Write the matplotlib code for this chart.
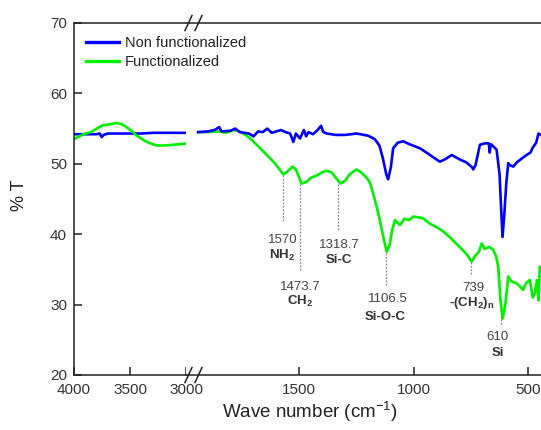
import matplotlib
matplotlib.use("Agg")
import matplotlib.pyplot as plt
from matplotlib.lines import Line2D

plt.rcParams['font.family'] = ['Liberation Sans', 'DejaVu Sans']
plt.rcParams['mathtext.fontset'] = 'custom'
plt.rcParams['mathtext.rm'] = 'Liberation Sans'
plt.rcParams['mathtext.it'] = 'Liberation Sans:italic'
plt.rcParams['mathtext.bf'] = 'Liberation Sans:bold'

# ---------------- data ----------------
blue_left_w = [4000, 3900, 3800, 3770, 3753, 3735, 3700, 3600, 3500, 3400, 3300, 3200, 3100, 2979]
blue_left_t = [54.2, 54.2, 54.2, 54.3, 53.8, 54.1, 54.3, 54.3, 54.3, 54.3, 54.4, 54.4, 54.4, 54.4]

green_left_w = [4000, 3917, 3850, 3798, 3738, 3680, 3619, 3570, 3530, 3480, 3440, 3351, 3262, 3200, 3113, 2979]
green_left_t = [53.5, 54.2, 54.5, 55.0, 55.5, 55.6, 55.8, 55.6, 55.2, 54.6, 54.0, 53.1, 52.6, 52.6, 52.7, 52.9]

blue_right_w = [1942, 1900, 1870, 1850, 1840, 1800, 1780, 1760, 1720, 1700, 1680, 1660, 1640,
                1620, 1600, 1580, 1560, 1540, 1526, 1515, 1497, 1480, 1470, 1460, 1440, 1420,
                1405, 1395, 1380, 1340, 1300, 1250, 1200, 1170, 1150, 1135, 1120, 1112, 1100,
                1090, 1070, 1046, 1020, 973, 940, 900, 886, 860, 834, 820, 798, 770, 745, 740,
                730, 711, 690, 672, 668, 664, 650, 638, 625, 618, 612, 605, 595, 587, 580, 565,
                550, 530, 507, 490, 480, 465, 455, 444]
blue_right_t = [54.5, 54.6, 54.8, 55.2, 54.6, 54.7, 55.0, 54.5, 54.3, 53.9, 54.6, 54.5, 55.0,
                54.4, 54.6, 54.8, 54.5, 54.3, 53.1, 54.3, 53.6, 54.8, 53.9, 54.5, 54.2, 54.8,
                55.4, 54.5, 54.3, 54.1, 54.1, 54.3, 54.0, 53.5, 52.6, 50.8, 48.5, 47.8, 49.5,
                52.2, 53.0, 53.2, 52.8, 52.2, 51.5, 50.6, 50.3, 50.7, 51.25, 51.0, 50.6, 50.2,
                49.5, 49.2, 49.8, 52.7, 52.9, 52.9, 51.6, 52.8, 52.4, 52.0, 48.5, 43.5, 39.6,
                42.5, 47.5, 50.1, 49.8, 49.6, 50.2, 50.7, 51.25, 51.6, 52.3, 53.0, 54.3, 54.1]

green_right_w = [1942, 1900, 1850, 1820, 1788, 1760, 1730, 1708, 1680, 1642, 1610, 1584, 1570,
                 1555, 1530, 1515, 1500, 1490, 1470, 1450, 1420, 1400, 1380, 1360, 1340, 1320,
                 1300, 1280, 1250, 1230, 1200, 1190, 1175, 1162, 1145, 1133, 1118, 1105, 1095,
                 1082, 1070, 1060, 1040, 1020, 1002, 980, 958, 930, 900, 871, 840, 800, 770,
                 747, 730, 715, 703, 690, 670, 653, 640, 631, 622, 612, 600, 587, 573, 550,
                 522, 510, 493, 480, 471, 462, 455, 449, 444]
green_right_t = [54.5, 54.5, 54.6, 54.4, 54.8, 54.6, 54.0, 53.4, 52.5, 51.25, 50.2, 49.1, 48.5,
                 48.8, 49.6, 49.2, 48.0, 47.2, 47.4, 48.0, 48.4, 48.8, 49.0, 48.8, 48.0, 47.2,
                 47.6, 48.5, 49.2, 48.8, 47.8, 47.2, 45.5, 43.9, 41.5, 39.6, 37.5, 38.5, 40.5,
                 42.0, 41.6, 41.3, 42.2, 42.0, 42.5, 42.4, 42.25, 41.5, 41.0, 40.4, 39.5, 38.2,
                 37.2, 36.1, 37.0, 37.5, 38.7, 37.9, 38.2, 37.8, 36.8, 35.4, 31.0, 28.0, 30.0,
                 34.0, 33.3, 33.0, 32.1, 33.0, 33.5, 31.0, 31.6, 33.5, 30.6, 35.4, 35.0]

# peak annotations
ann_num = ['1570', '1473.7', '1318.7', '1106.5', '739', '610']
ann_grp = [r'NH$_\mathbf{2}$', r'CH$_\mathbf{2}$', 'Si-C', 'Si-O-C',
           r'-(CH$_\mathbf{2}$)$_\mathbf{n}$', 'Si']
ann_line_w = [1570, 1497, 1330, 1122, 750, 617]
ann_top = [48.4, 47.1, 47.1, 37.4, 36.0, 27.9]
ann_bottom = [41.8, 34.9, 40.4, 32.8, 34.2, 26.9]
ann_text_w = [1573, 1494, 1323, 1112, 740, 634]
ann_grp_w = [1574, 1496, 1326, 1124, 745, 634]
ann_num_y = [39.2, 32.5, 38.5, 30.75, 32.3, 25.4]
ann_grp_y = [37.0, 30.4, 36.3, 28.3, 30.2, 23.1]

left_ticks = [4000, 3500, 3000]
right_ticks = [1500, 1000, 500]
y_ticks = [20, 30, 40, 50, 60, 70]

BLUE = '#0000ff'
GREEN = '#00f000'

W, H = 541, 430
fig = plt.figure(figsize=(W / 100, H / 100), dpi=100)
x0, x_break, x1 = 74, 186, 541
y_bot, y_top = 375, 23
axL = fig.add_axes([x0 / W, (H - y_bot) / H, (x_break - x0) / W, (y_bot - y_top) / H])
axR = fig.add_axes([x_break / W, (H - y_bot) / H, (x1 - x_break) / W, (y_bot - y_top) / H])

for ax in (axL, axR):
    ax.set_ylim(20, 70)
    ax.spines['right'].set_visible(False)
    for s in ax.spines.values():
        s.set_linewidth(1.1)
        s.set_color('#222222')
    ax.tick_params(direction='in', length=6, width=1.1, labelsize=11, colors='#222222')
    ax.tick_params(axis='x', pad=6)
    ax.tick_params(axis='y', pad=5)
    ax.tick_params(axis='both', labelcolor='#333333')

axL.set_xlim(4000, 3000)
axR.set_xlim(1995, 444)
axL.set_xticks(left_ticks)
axR.set_xticks(right_ticks)
axL.set_yticks(y_ticks)
axR.set_yticks([])
axR.spines['left'].set_visible(False)

lw = 1.9
axL.plot(blue_left_w, blue_left_t, color=BLUE, lw=lw)
axL.plot(green_left_w, green_left_t, color=GREEN, lw=lw)
axR.plot(green_right_w, green_right_t, color=GREEN, lw=lw)
axR.plot(blue_right_w, blue_right_t, color=BLUE, lw=lw)

for w, yt, yb, num, grp, ny, gy, tw, gw in zip(ann_line_w, ann_top, ann_bottom, ann_num, ann_grp,
                                                ann_num_y, ann_grp_y, ann_text_w, ann_grp_w):
    axR.plot([w, w], [yt, yb], color='#888888', lw=0.9, ls=(0, (1.5, 1.2)))
    axR.text(tw, ny, num, ha='center', va='center', fontsize=9.5, color='#444444')
    axR.text(gw, gy, grp, ha='center', va='center', fontsize=9.5, color='#333333',
             fontweight='bold')

# break marks
for yc in (y_top, y_bot):
    for xs in (185, 195):
        fig.add_artist(Line2D([xs / W, (xs + 7) / W], [(H - yc - 7.5) / H, (H - yc + 7.5) / H],
                              color='#222222', lw=1.1, transform=fig.transFigure))

# legend
handles = [Line2D([], [], color=BLUE, lw=2.4), Line2D([], [], color=GREEN, lw=2.4)]
fig.legend(handles, ['Non functionalized', 'Functionalized'], loc='upper left',
           bbox_to_anchor=(80 / W, 1 - 30 / H), frameon=False, fontsize=10.5,
           handlelength=2.3, handletextpad=0.4, labelspacing=0.35, borderaxespad=0,
           labelcolor='#222222')

fig.text(310 / W, 1 - 412 / H, 'Wave number (cm$^{-1}$)', ha='center', va='center',
         fontsize=13.5, color='#222222')
fig.text(20 / W, 1 - 195 / H, '% T', ha='center', va='center', rotation=90,
         fontsize=13, color='#222222')

fig.savefig('out.png', dpi=100)
